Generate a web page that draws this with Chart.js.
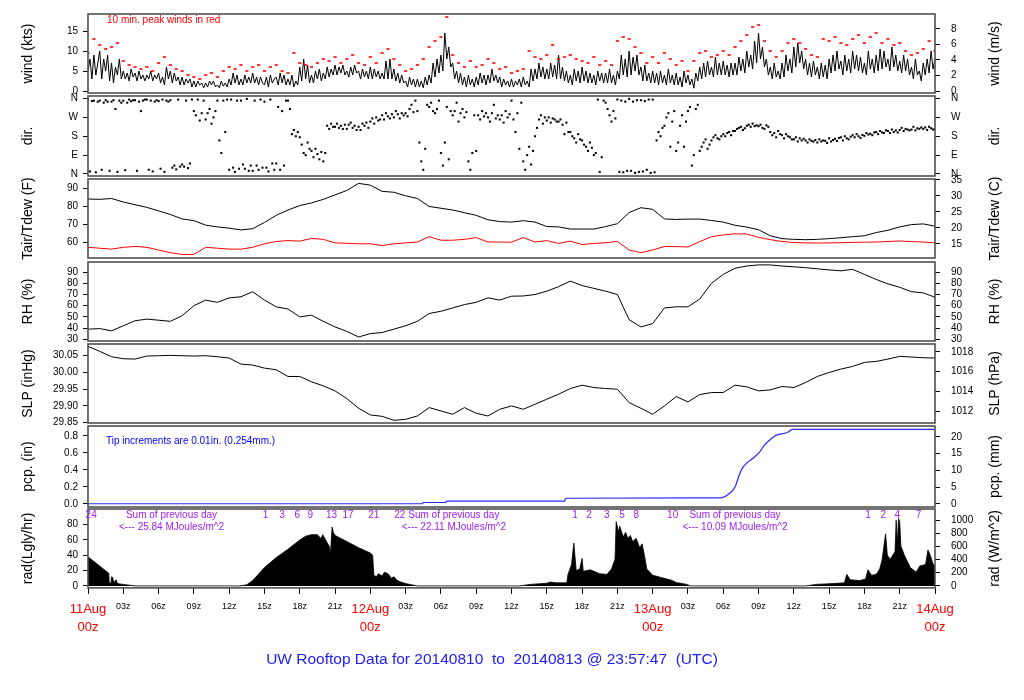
<!DOCTYPE html>
<html><head><meta charset="utf-8">
<script src="https://cdn.jsdelivr.net/npm/chart.js@4.4.1/dist/chart.umd.min.js"></script>
<style>
html,body{margin:0;padding:0;background:#fff;}
#wrap{position:relative;width:1024px;height:700px;overflow:hidden;background:#fff;}
#wrap canvas{position:absolute;left:0;}
</style></head><body><div id="wrap"></div>
<script>
// ---------------- DATA ----------------
// time axis: hours since 11Aug 00z
const xTickHours = [0,3,6,9,12,15,18,21,24,27,30,33,36,39,42,45,48,51,54,57,60,63,66,69,72];
const dayNames = ['11Aug','12Aug','13Aug','14Aug'];

// wind speed (kts), every 10 minutes
const windStepHours = 1/6;
const windKts = [
5,8,3,9,4,7, 10,3,8,5,9,2.5, 7,2,6,4,8,3, 5,3,4.5,2.5,5.5,3.5, 4.5,2.5,5,3,4,2.5,
4,3,5,2.5,4,3, 4.5,2,3.5,1.5,6,3, 5,2,4.5,2.5,3.5,1.5, 3.5,1.5,3,2,3,1, 2.5,1,2.5,1.5,2,0.8,
2,1,2.5,1.5,2.5,1, 1.5,0.8,2.5,1.2,2,1, 3,1.5,4.5,2,4,1.5, 3,1.5,4,2,3.5,2, 4.5,2,3.5,1.5,3.5,2,
1.5,3.5,1,4,2,3, 3.5,1.5,4.5,2,4,1.5, 3,1.5,4,1,2.5,1.5, 6,2.5,8,3,6.5,2, 4,2,5,3,5.5,2.5,
4.5,3,6,3.5,5.5,4, 6.5,4,6,4.5,6.5,4, 5,3.5,6,4,6.5,4.5, 5,3,5.5,3.5,5,3, 6,3,5.5,3.5,5,3,
4.5,3,7.5,3,8,3, 5.5,2.5,4.5,2,4,2, 2.5,1,3.5,1.5,3,1, 3,1,2.5,0.8,3.5,1.5, 4,2,7,3.5,8,4.5,
9,5,14.5,8,11,6, 7,3,5,2,4.5,1.5, 3.5,1,4,1.5,3,1, 3.5,1.5,4.5,2,4,1.5, 4,2,5.5,2.5,4,2,
3.5,1,3,1.5,2.5,1, 3,1,2.5,1.5,3,1, 3.5,1.5,2.5,1,5.5,2.5, 5.5,3,7,3.5,6,3, 5.5,3,7,3.5,6.5,3,
9,3,6,2.5,5,2, 4,1.5,5.5,2.5,5,2, 6,2.5,5,2,4.5,2, 4,1.5,5,2.5,4.5,2, 4.5,2,5.5,2,4,1.5,
5,3,9,4,8,3.5, 10,4,8.5,5,9,4, 6,2.5,6.5,2.5,4.5,2, 5,2,4.5,1.5,5,2, 4,1.5,5.5,2,4,1.5,
4.5,1.5,3.5,1,5,2, 4,1.5,3,0.7,4.5,2.5, 6,3,7,3.5,7.5,4, 6,3.5,8.5,4,7,4, 7.5,4,6.5,3.5,7,4,
7,4,8.5,5,8,4.5, 10,6,9,5.5,12.5,7, 14.5,8,11,6,8,4, 6,3,7,3.5,5,3, 7,3.5,9,5,8,4.5,
11,6,12,7,10,5.5, 8,4,7,3.5,7.5,4, 6,3,7,3.5,6.5,3, 8,4.5,9,5,10,5.5, 7.5,4,9,5,8,4.5,
10,5.5,9,5,8.5,4.5, 7,4,10,5.5,8,4.5, 9,5,10.5,5.5,10,6, 8,5,11,6,9,5, 7.5,4.5,9,5,8,4,
6,3,8,4,5,2.5, 7,4,8,4.5,10,5.5, 8];

// 10-min peak wind (kts), every 30 minutes
const peakStepHours = 0.5;
const peakKts = [
9.5,13, 11.5,10.5, 11,12, 7.5,6.5, 6,5.5, 6,5, 7,8.5, 6.5,5.5, 5,4, 3.5,3,
4,4.5, 3.5,5, 6,5.5, 6.5,5, 6,6.5, 5,6, 6.5,5, 4.5,9.5, 7,6.5, 6,7,
8,7.5, 8.5,7, 8,9, 7,6.5, 8.5,7, 9.5,10.5, 8,6.5, 5,5.5, 6.5,8, 11,12.5,
13.5,18.5, 9,7, 6,7.5, 6,6.5, 8,7, 5.5,6, 4.5,5, 5.5,10, 8.5,8, 9,11.5,
8,8.5, 9,8, 7.5,7, 8.5,6.5, 7.5,6.5, 12.5,13.5, 13,11, 9.5,7, 8.5,7, 9.5,8,
6.5,7.5, 5,7.5, 9.5,10, 8.5,9, 10,9, 11,12.5, 14,16, 16.5,12.5, 10,8.5, 10,12,
13,12, 10.5,9, 8.5,13, 12.5,13.5, 12,11.5, 13,14, 12,13.5, 14.5,12, 13,11.5, 12,10,
9,9.5, 10.5,12.5, 10];

// wind direction (degrees, 0 = N), every 10 minutes
const dirStepHours = 1/6;
const dirDeg = [
355,12,348,350,8,345, 350,20,340,352,345,15, 345,352,310,10,350,340, 350,18,340,355,347,352,
352,15,345,300,350,355, 355,20,350,12,345,352, 348,25,355,10,350,345, 352,30,40,22,355,35,
45,35,350,28,50,355, 300,280,355,255,290,350, 260,290,310,240,270,300, 350,160,100,350,200,355,
20,355,30,10,350,25, 350,45,25,358,15,40, 15,350,40,20,355,30, 345,30,12,355,50,20,
50,320,20,300,40,350, 350,310,190,210,180,200, 175,140,100,90,150,120, 110,80,120,95,70,105,
60,100,230,215,240,225, 225,240,220,230,215,235, 215,235,245,220,230,210, 225,210,240,230,245,220,
250,265,240,270,255,260, 280,260,290,275,265,285, 270,300,285,265,290,280, 290,275,310,330,295,350,
300,150,60,20,120,330, 320,340,300,290,310,350, 100,40,150,320,70,300, 280,300,340,250,290,310,
270,295,60,20,100,280, 110,280,260,300,275,290, 270,250,290,330,265,280, 260,280,245,300,270,285,
350,260,200,290,120,340, 60,20,90,130,45,110, 180,220,260,280,240,270, 255,270,245,265,260,250,
250,260,235,190,245,200, 200,180,170,150,190,165, 160,140,130,110,150,125, 90,100,355,10,80,350,
340,310,280,250,300,265, 355,10,350,8,345,15, 358,15,345,5,352,10, 352,12,348,20,355,5,
355,8,160,200,180,220, 230,270,290,130,250,300, 110,150,230,280,130,250, 300,320,40,90,310,330,
110,130,150,165,120,140, 160,175,185,170,165,180, 190,180,195,200,185,205, 205,215,220,225,210,218,
230,235,225,240,228,232, 228,235,220,215,232,225, 200,185,195,175,205,190, 185,170,190,180,175,165,
165,175,155,170,160,168, 160,150,165,158,155,162, 150,165,155,160,158,148, 170,155,162,168,158,172,
175,160,180,170,165,178, 185,175,190,180,172,186, 182,195,188,192,185,198, 200,190,205,198,195,208,
205,195,212,200,208,198, 210,220,205,215,212,208, 212,225,208,218,215,222, 215,222,210,225,218,212,
215];

// hourly series
const hourlyStep = 1;
const tairF = [
84.2,84,84.5,82.5,81,79.5,77.5,75.5,73,72,
69.5,68.5,67.8,66.8,67.5,71,75,78,80.5,82,
84,86.5,89,93,92,88.5,88,86,84.5,80,
79,78,76.5,75,72.5,71.5,71.2,72,71.2,68.7,
68.5,67.3,67.3,67.3,68.7,70.3,76.6,79.3,78.4,73,
72.7,72.9,72.9,72.1,71.2,69.4,68.4,66.9,63.5,61.9,
61.5,61.3,61.5,61.9,62.4,63,63.5,65.3,66.6,68.5,
69.8,70.2,68.9];
const tdewF = [
57,56.5,56,57,57.5,57,55.5,54,53,53,
57,56.5,56,56,57,59,60.3,60.8,60.5,62,
61.5,59.5,59.3,59,59,58,59,59.5,60,63,
61,61,61.5,62.5,60,60,59.9,62.5,60,60.8,
59.2,60.5,58.6,59.2,59.6,60.3,55.5,54,55.5,57.5,
57.4,57.2,60.2,63,64,64.6,64.5,62.6,61.3,60.3,
59.7,59.5,59.4,59.5,59.6,59.8,59.9,60,60.3,60.6,
60.2,60,59.5];
const rhPct = [
39,39.5,37.5,42,46.5,48,47,46,51,60,
65,63,67,68,72.5,65,59,57,50,51.5,
46,41,37,32,35,36,39,42,46,53,
55,58,61,63,67,65,68.5,68.7,70,73,
77,82,78,75.5,73,70,47.5,41,44,58,
59,59,66,80,88,93.5,95.5,96.5,96.5,95.5,
94.8,94,93,92,91.2,92.5,88,83.5,79.5,76.5,
72.5,71.5,67.5];
const slpInHg = [
30.078,30.063,30.047,30.041,30.040,30.049,30.050,30.051,30.050,30.049,
30.050,30.047,30.043,30.025,30.022,30.013,30.008,29.988,29.988,29.972,
29.960,29.945,29.922,29.893,29.873,29.869,29.857,29.860,29.870,29.895,
29.885,29.875,29.895,29.878,29.870,29.890,29.900,29.890,29.905,29.920,
29.935,29.952,29.962,29.955,29.952,29.950,29.910,29.893,29.875,29.900,
29.928,29.912,29.934,29.940,29.940,29.962,29.957,29.945,29.948,29.958,
29.955,29.970,29.988,30.000,30.010,30.018,30.030,30.033,30.040,30.048,
30.046,30.044,30.043];

// cumulative precipitation (in)
const pcpHours = [0,28.4,28.5,30.4,30.5,40.5,40.6,53.7,54.5,55.0,55.3,55.6,56.0,56.5,57.1,57.5,58.1,58.5,59.4,59.9,72];
const pcpIn    = [0,0,0.015,0.015,0.03,0.03,0.065,0.07,0.118,0.197,0.315,0.414,0.48,0.532,0.61,0.69,0.768,0.808,0.835,0.875,0.875];

// solar radiation (Langley/hr)
const radHours = [
0,1.77,1.8,1.95,2.0,2.1,2.2,2.4,2.5,3.0,3.5,4.0,
12.9,13.5,14.0,15,16,17,18,18.5,19,19.5,19.8,19.95,20.2,20.5,20.6,20.75,20.85,21,22,23,24,24.2,24.3,24.5,24.7,25,25.2,25.5,25.8,26,26.3,26.6,27,27.5,28,
36.7,37.6,39,39.3,39.8,40.7,40.8,41.1,41.3,41.5,41.8,42.0,42.1,42.7,43.5,44.1,44.5,44.8,44.9,45.1,45.2,45.5,45.7,45.9,46.1,46.3,46.6,46.9,47.1,47.3,47.5,48.0,49.2,49.6,50.0,50.9,51.2,
61.0,61.9,63.3,64.3,64.5,64.8,65.6,66.1,66.3,66.6,67.0,67.3,67.5,67.8,67.95,68.2,68.6,68.7,68.8,68.9,69.0,69.1,69.4,69.9,70.4,70.7,71.2,71.4,71.6,71.8,72.0];
const radLy = [
38,16.5,4,3.5,12,11,4,8,3,2,1,0,
0,1.5,7,24,37,48,60,65,67,67,62,67,60,52,40,77,70,66,58,50,43,40,14,12,16,13,18,16,10,12,7,5,3,1.5,0,
0,2,3.5,5,4,4,15,28,56,20,22,36,19,21,16,15,22,35,84,70,78,64,70,62,66,58,62,50,55,40,22,14,9,7.5,4.5,2,0,
0,2,3,4,15,8,7,9,21,14,15,22,34,68,40,35,45,86,55,88,84,52,40,24,18,26,28,47,40,30,25];

// radiation annotations
const radMarkHours  = [0.27,15.1,16.5,17.8,18.9,20.7,22.1,24.3,26.5,41.4,42.6,44.1,45.4,46.6,49.7,66.3,67.6,68.8,70.6];
const radMarkLabels = ['24','1','3','6','9','13','17','21','22','1','2','3','5','8','10','1','2','4','7'];
const daySumHours = [7.1,31.1,55.0];
const daySumMJ    = ['25.84','22.11','10.09'];

// ---------------- RENDERING ----------------
const FONT = "'Liberation Sans', Arial, Helvetica, sans-serif";
Chart.defaults.font.family = FONT;
const PLOT_LEFT = 88, PLOT_RIGHT = 935, W = 1024;
const PURPLE = '#a020f0';

function series(step, arr){ return arr.map((v,i)=>({x:i*step, y:v})); }
function pairs(hs, vs){ return hs.map((h,i)=>({x:h, y:vs[i]})); }

function yScale(pos, min, max, ticks, fmt, title){
  const left = pos === 'left';
  return {
    type:'linear', position:pos, min:min, max:max,
    afterBuildTicks: s => { s.ticks = ticks.map(v=>({value:v})); },
    afterFit: s => { s.width = left ? PLOT_LEFT : (W - PLOT_RIGHT); },
    ticks:{ callback: v => fmt(v), font:{family:FONT,size:10,lineHeight:1.2}, color:'#000',
            padding: left ? 5 : 11, autoSkip:false, maxRotation:0, minRotation:0 },
    grid:{ drawOnChartArea:false, drawTicks:true, tickLength:5, tickColor:'#000', tickWidth:1 },
    border:{ display:false },
    title:{ display: !!title, text: title || '', font:{family:FONT,size:14}, color:'#000',
            padding:{top:19.5,bottom:0} }
  };
}
function xScale(show){
  const isDay = c => c.tick && c.tick.value % 24 === 0;
  return {
    type:'linear', position:'bottom', min:0, max:72, display:show,
    afterBuildTicks: s => { s.ticks = xTickHours.map(v=>({value:v})); },
    ticks:{ autoSkip:false, maxRotation:0, minRotation:0, padding:7,
      callback: v => (v % 24 === 0) ? [dayNames[v/24], '00z'] : String(v % 24).padStart(2,'0') + 'z',
      font: c => isDay(c) ? {family:FONT,size:13,lineHeight:1.35} : {family:FONT,size:9,lineHeight:1.2},
      color: c => isDay(c) ? '#ff0000' : '#000' },
    grid:{ drawOnChartArea:false, tickLength:6, tickColor:'#000' },
    border:{ display:false }
  };
}
const framePlugin = { id:'frame', afterDraw(chart){
  const a = chart.chartArea, c = chart.ctx;
  c.save(); c.strokeStyle = '#505050'; c.lineWidth = 1.6;
  c.strokeRect(a.left, a.top, a.right - a.left, a.bottom - a.top); c.restore();
}};
function textPlugin(items, rightTitle){
  return { id:'txt', afterDraw(chart){
    const c = chart.ctx, a = chart.chartArea, xs = chart.scales.x;
    c.save();
    items.forEach(t => {
      c.font = (t.size || 10) + 'px ' + FONT;
      c.fillStyle = t.color || '#000';
      c.textAlign = t.align || 'center';
      c.textBaseline = 'middle';
      const x = (t.hour != null) ? xs.getPixelForValue(t.hour) : (t.absX != null ? t.absX : a.left + t.dx);
      const y = t.fromBottom ? a.bottom + t.dy : a.top + t.dy;
      c.fillText(t.text, x, y);
    });
    if (rightTitle){
      c.translate(995, (a.top + a.bottom) / 2); c.rotate(-Math.PI/2);
      c.font = '14px ' + FONT; c.fillStyle = '#000'; c.textAlign = 'center'; c.textBaseline = 'middle';
      c.fillText(rightTitle, 0, 0);
    }
    c.restore();
  }};
}
const lineDs = (data, color, width) => ({ data, borderColor:color, borderWidth:width||1, pointRadius:0, tension:0, fill:false, xAxisID:'x', yAxisID:'y' });
const dirFmt = v => ({0:'N',90:'E',180:'S',270:'W',360:'N'})[v];
const intFmt = v => String(v);

const radTexts = [];
radMarkHours.forEach((h,i) => radTexts.push({text:radMarkLabels[i], hour:h, dy:6, color:PURPLE, size:10}));
daySumHours.forEach((h,i) => {
  radTexts.push({text:'Sum of previous day', hour:h, dy:6, color:PURPLE, size:10});
  radTexts.push({text:'<--- ' + daySumMJ[i] + ' MJoules/m^2', hour:h, dy:18, color:PURPLE, size:10});
});
radTexts.push({text:'UW Rooftop Data for 20140810  to  20140813 @ 23:57:47  (UTC)', absX:492, dy:72, fromBottom:true, size:15.5, color:'#2020f0'});

const panels = [
 { top:14, bottom:93,
   left:{min:-0.5,max:19.25,ticks:[0,5,10,15],fmt:intFmt,title:'wind (kts)'},
   right:{conv:v=>v*0.514444,ticks:[0,2,4,6,8],fmt:intFmt,title:'wind (m/s)'},
   datasets:[
     { data:series(peakStepHours, peakKts), showLine:false, pointStyle:'line', pointRadius:1.6,
       pointBorderColor:'#ff0000', pointBorderWidth:1.6, xAxisID:'x', yAxisID:'y' },
     lineDs(series(windStepHours, windKts), '#000', 1)
   ],
   texts:[{text:'10 min. peak winds in red', dx:19, dy:6, align:'left', color:'#ff0000', size:10}] },
 { top:96, bottom:175.5,
   left:{min:-9.7,max:372,ticks:[0,90,180,270,360],fmt:dirFmt,title:'dir.'},
   right:{conv:v=>v,ticks:[0,90,180,270,360],fmt:dirFmt,title:'dir.'},
   datasets:[{ data:series(dirStepHours, dirDeg), showLine:false, pointStyle:'rect', pointRadius:1.45,
       pointBackgroundColor:'#000', pointBorderColor:'#000', pointBorderWidth:0, xAxisID:'x', yAxisID:'y' }],
   texts:[] },
 { top:179, bottom:258,
   left:{min:51.0,max:95.46,ticks:[60,70,80,90],fmt:intFmt,title:'Tair/Tdew (F)'},
   right:{conv:v=>(v-32)/1.8,ticks:[15,20,25,30,35],fmt:intFmt,title:'Tair/Tdew (C)'},
   datasets:[ lineDs(series(hourlyStep, tdewF), '#ff0000', 1), lineDs(series(hourlyStep, tairF), '#000', 1) ],
   texts:[] },
 { top:261.5, bottom:340.5,
   left:{min:28.4,max:99.1,ticks:[30,40,50,60,70,80,90],fmt:intFmt,title:'RH (%)'},
   right:{conv:v=>v,ticks:[30,40,50,60,70,80,90],fmt:intFmt,title:'RH (%)'},
   datasets:[ lineDs(series(hourlyStep, rhPct), '#000', 1) ],
   texts:[] },
 { top:344, bottom:422.7,
   left:{min:29.849,max:30.085,ticks:[29.85,29.90,29.95,30.00,30.05],fmt:v=>v.toFixed(2),title:'SLP (inHg)'},
   right:{conv:v=>v*33.8639,ticks:[1012,1014,1016,1018],fmt:intFmt,title:'SLP (hPa)'},
   datasets:[ lineDs(series(hourlyStep, slpInHg), '#000', 1) ],
   texts:[] },
 { top:426, bottom:506.5,
   left:{min:-0.038,max:0.915,ticks:[0,0.2,0.4,0.6,0.8],fmt:v=>v.toFixed(1),title:'pcp. (in)'},
   right:{conv:v=>v*25.4,ticks:[0,5,10,15,20],fmt:intFmt,title:'pcp. (mm)'},
   datasets:[ Object.assign(lineDs(pairs(pcpHours, pcpIn), '#2828ff', 1.2), {cubicInterpolationMode:'monotone'}) ],
   texts:[{text:'Tip increments are 0.01in. (0.254mm.)', dx:18, dy:15.7, align:'left', color:'#0000ff', size:10}] },
 { top:509, bottom:588, bottomPanel:true,
   left:{min:-2.6,max:100.5,ticks:[0,20,40,60,80],fmt:intFmt,title:'rad(Lgly/hr)'},
   right:{conv:v=>v*11.622,ticks:[0,200,400,600,800,1000],fmt:intFmt,title:'rad (W/m^2)'},
   datasets:[ Object.assign(lineDs(pairs(radHours, radLy), '#000', 0.8), {fill:'origin', backgroundColor:'#000'}) ],
   texts:radTexts }
];

function makeConfig(p){
  const isBottom = !!p.bottomPanel;
  return {
    type:'line',
    data:{ datasets:p.datasets },
    options:{
      responsive:false, maintainAspectRatio:false, animation:false, events:[],
      layout:{ padding:{ left:0, right:0, top:2, bottom: isBottom ? 42 : 2 } },
      plugins:{ legend:{display:false}, tooltip:{enabled:false}, title:{display:false} },
      scales:{
        x: xScale(isBottom),
        y: yScale('left', p.left.min, p.left.max, p.left.ticks, p.left.fmt, p.left.title),
        y2: yScale('right', p.right.conv(p.left.min), p.right.conv(p.left.max), p.right.ticks, p.right.fmt, null)
      }
    },
    plugins:[ framePlugin, textPlugin(p.texts, p.right.title) ]
  };
}

const wrap = document.getElementById('wrap');
panels.forEach(p => {
  const cv = document.createElement('canvas');
  cv.width = W; cv.height = 200;
  cv.style.width = W + 'px'; cv.style.height = '200px'; cv.style.top = '0px';
  wrap.appendChild(cv);
  let ch = new Chart(cv, makeConfig(p));
  const insetTop = ch.chartArea.top, insetBottom = 200 - ch.chartArea.bottom;
  ch.destroy();
  const H = Math.round(insetTop + (p.bottom - p.top) + insetBottom);
  cv.width = W; cv.height = H;
  cv.style.width = W + 'px'; cv.style.height = H + 'px';
  cv.style.top = Math.round(p.top - insetTop) + 'px';
  new Chart(cv, makeConfig(p));
});
</script></body></html>
